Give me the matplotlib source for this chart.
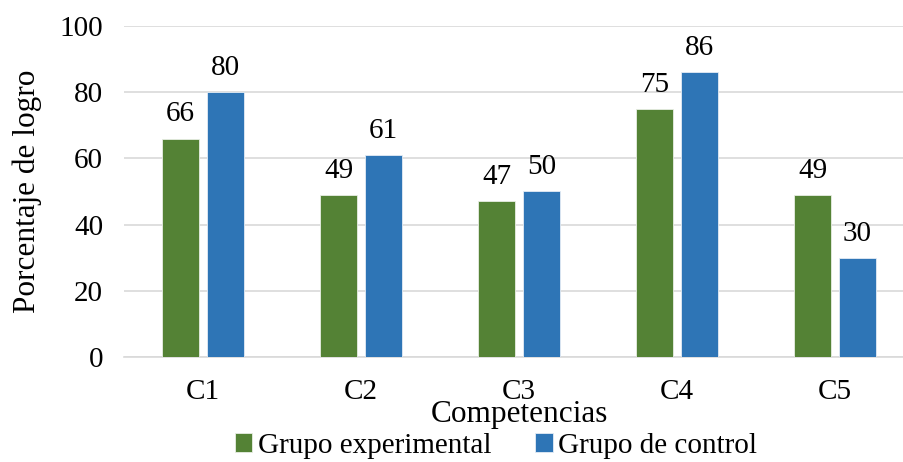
import numpy as np
import matplotlib.pyplot as plt

categories = ["C1", "C2", "C3", "C4", "C5"]
experimental = [66, 49, 47, 75, 49]
control = [80, 61, 50, 86, 30]

plt.rcParams["font.family"] = ["Liberation Serif", "DejaVu Serif"]


def main():
    fig = plt.figure(figsize=(9.04, 4.62), dpi=100)
    ax = fig.add_axes([0.1372, 0.2273, 0.874, 0.7165])

    x = np.arange(len(categories))
    w = 0.235
    b1 = ax.bar(x - 0.142, experimental, w, color="#548235", edgecolor="#e8eee4",
                linewidth=0.6, label="Grupo experimental", zorder=3)
    b2 = ax.bar(x + 0.142, control, w, color="#2E75B6", edgecolor="#e4ecf5",
                linewidth=0.6, label="Grupo de control", zorder=3)
    ax.bar_label(b1, fontsize=21, padding=8)
    ax.bar_label(b2, fontsize=21, padding=8)

    ax.set_xlim(-0.5, len(categories) - 0.5)
    ax.set_ylim(0, 100)
    ax.set_yticks([0, 20, 40, 60, 80, 100])
    ax.set_xticks(x)
    ax.set_xticklabels(categories)
    ax.tick_params(axis="both", length=0, labelsize=21)
    ax.tick_params(axis="y", pad=15)
    ax.tick_params(axis="x", pad=16)

    ax.grid(axis="y", color="#d9d9d9", linewidth=1.2, zorder=0)
    for s in ["top", "right", "left"]:
        ax.spines[s].set_visible(False)
    ax.spines["bottom"].set_color("#d9d9d9")
    ax.spines["bottom"].set_linewidth(1.2)

    ax.set_ylabel("Porcentaje de logro", fontsize=22.5, labelpad=13)
    ax.set_xlabel("Competencias", fontsize=22.5)
    ax.xaxis.set_label_coords(0.5, -0.13)

    fig.legend(loc="center", bbox_to_anchor=(496 / 904, 1 - 446 / 462), ncol=2,
               frameon=False, fontsize=21, handlelength=0.6, handleheight=0.6,
               handletextpad=0.2, columnspacing=1.5, borderaxespad=0, borderpad=0)

    fig.savefig("out.png", dpi=100)


if __name__ == "__main__":
    main()
